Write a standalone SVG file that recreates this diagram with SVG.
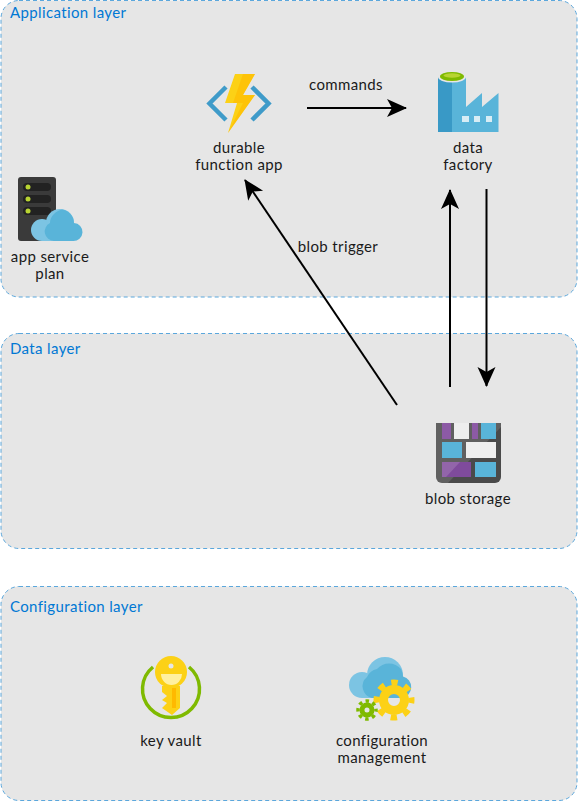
<svg xmlns="http://www.w3.org/2000/svg" width="578" height="802" viewBox="0 0 578 802">
<style>
.layer{fill:#e6e6e6;stroke:#5ba7dc;stroke-width:1;stroke-dasharray:4 3}
text{font-family:"Lato","Liberation Sans",sans-serif;font-size:15px;letter-spacing:.37px;fill:#1a1a1a;text-anchor:middle}
.title{fill:#0078d4;text-anchor:start}
.conn{fill:none;stroke:#000;stroke-width:2;marker-end:url(#arrow)}
.lt{fill:#7cc4e3}.dk{fill:#59b4d9}.yw{fill:#fcd116}.gn{fill:none;stroke:#7fba00}
</style>
<defs>
<marker id="arrow" markerUnits="userSpaceOnUse" markerWidth="22" markerHeight="22" refX="19" refY="10" orient="auto">
<path d="M0 1 L20 10 L0 19 L5 10Z" fill="#000"/>
</marker>
</defs>
<g id="application-layer"><rect class="layer" x="1" y="0.500" width="576" height="296.500" rx="18"/><text class="title" x="10" y="18">Application layer</text></g>
<g id="data-layer"><rect class="layer" x="1" y="333.500" width="576" height="215" rx="18"/><text class="title" x="10" y="354">Data layer</text></g>
<g id="configuration-layer"><rect class="layer" x="1" y="586.500" width="576" height="214" rx="18"/><text class="title" x="10" y="612">Configuration layer</text></g>
<g id="connectors">
<path class="conn" d="M307 108H406"/>
<path class="conn" d="M397 405L245 180"/>
<path class="conn" d="M450 387V190"/>
<path class="conn" d="M486.500 189V386"/>
</g>
<text x="346" y="90">commands</text>
<text x="338" y="252">blob trigger</text>
<g id="durable-function-app">
<path d="M226 87L209.500 103.500L226 120" fill="none" stroke="#3f9bc9" stroke-width="4.500"/>
<path d="M252 87L268.500 103.500L252 120" fill="none" stroke="#3f9bc9" stroke-width="4.500"/>
<path d="M235 74H255L243 95H255L228 133L237 103H225Z" class="yw"/>
<path d="M243 74H255L243 95H255L228 133L243 103H233Z" fill="#ffb900" opacity=".6"/>
<text x="239" y="153">durable</text><text x="239" y="170">function app</text>
</g>
<g id="data-factory">
<path d="M438 77H466V107L482 93V107L498.500 93V132H438Z" class="dk"/>
<path d="M438 77H452V132H438Z" fill="#3999c6"/>
<ellipse cx="452" cy="77" rx="14" ry="5.500" fill="#e6e6e6"/>
<ellipse cx="452" cy="76.500" rx="12" ry="4.500" fill="#7fba00"/>
<ellipse cx="452" cy="75.500" rx="8.500" ry="2.200" fill="#b8d432"/>
<path d="M462 116h7v6h-7zM474 116h6v6h-6zM486 116h6v6h-6z" fill="#d8edf5"/>
<text x="468" y="153">data</text><text x="468" y="170">factory</text>
</g>
<g id="app-service-plan">
<rect x="18" y="177" width="38" height="64" rx="3" fill="#3a3a3a"/>
<rect x="23" y="183" width="28" height="8" rx="4" fill="#222"/>
<rect x="23" y="195" width="28" height="8" rx="4" fill="#222"/>
<rect x="23" y="207" width="28" height="8" rx="4" fill="#222"/>
<circle cx="28" cy="187" r="2.500" fill="#b8d432"/><circle cx="28" cy="199" r="2.500" fill="#b8d432"/><circle cx="28" cy="211" r="2.500" fill="#b8d432"/>
<circle cx="42" cy="230" r="11" class="lt"/><circle cx="60" cy="223" r="14" class="lt"/><rect x="42" y="225" width="30" height="16" class="lt"/>
<path d="M54 241A9.500 9.500 0 0 1 50 223C50 216 56 211 62 209.500A14 14 0 0 1 74 223A9 9 0 0 1 73 241Z" class="dk"/>
<text x="50" y="262">app service</text><text x="50" y="279">plan</text>
</g>
<g id="blob-storage">
<path d="M436 423H501V477a6 6 0 0 1-6 6H442a6 6 0 0 1-6-6Z" fill="#4a4a4a"/>
<path d="M436 423H501V427L448 483H442a6 6 0 0 1-6-6Z" fill="#fff" opacity=".12"/>
<rect x="442" y="423" width="9" height="16" fill="#8c5aa5"/>
<rect x="454" y="423" width="15" height="16" fill="#eeeeee"/>
<rect x="472" y="423" width="6" height="16" fill="#8c5aa5"/>
<rect x="481" y="423" width="15" height="16" class="dk"/>
<rect x="442" y="442" width="20" height="16" class="dk"/>
<rect x="466" y="442" width="30" height="16" fill="#eeeeee"/>
<rect x="442" y="462" width="29" height="15" fill="#7f4b9c"/>
<path d="M442 462H460L446 477H442Z" fill="#fff" opacity=".15"/>
<rect x="475" y="462" width="21" height="15" class="dk"/>
<text x="468" y="504">blob storage</text>
</g>
<g id="key-vault">
<path d="M153 667A28.500 28.500 0 1 0 189 667" class="gn" stroke-width="3.500"/>
<path d="M162 686H180V708L172 715L162 708L167 703L162 700L167 696L162 692Z" class="yw"/>
<rect x="172" y="688" width="4" height="20" fill="#ffb900"/>
<circle cx="171" cy="672" r="16" class="yw"/>
<path d="M161 674H182A10.500 11 0 0 1 161 674Z" fill="#fff0a0"/>
<circle cx="171" cy="666" r="2.500" fill="#e6e6e6"/>
<text x="171" y="746">key vault</text>
</g>
<g id="configuration-management">
<circle cx="362" cy="685" r="13" class="lt"/><circle cx="385" cy="675" r="18" class="lt"/><rect x="362" y="680" width="40" height="18" class="lt"/>
<path d="M372 698A12 12 0 0 1 367 677A14 14 0 0 1 377 669A16 16 0 0 1 401 669A18 18 0 0 1 403 676.500A11 11 0 0 1 402 698Z" class="dk"/>
<circle cx="394" cy="700" r="10.500" fill="none" stroke="#fcd116" stroke-width="9"/>
<circle cx="394" cy="700" r="17.500" fill="none" stroke="#fcd116" stroke-width="6" stroke-dasharray="6.500 7.240" stroke-dashoffset="3.250"/>
<circle cx="367" cy="710" r="5" class="gn" stroke-width="5"/>
<circle cx="367" cy="710" r="9" class="gn" stroke-width="3.500" stroke-dasharray="3.500 3.570" stroke-dashoffset="1.750"/>
<text x="382" y="746">configuration</text><text x="382" y="763">management</text>
</g>
</svg>
